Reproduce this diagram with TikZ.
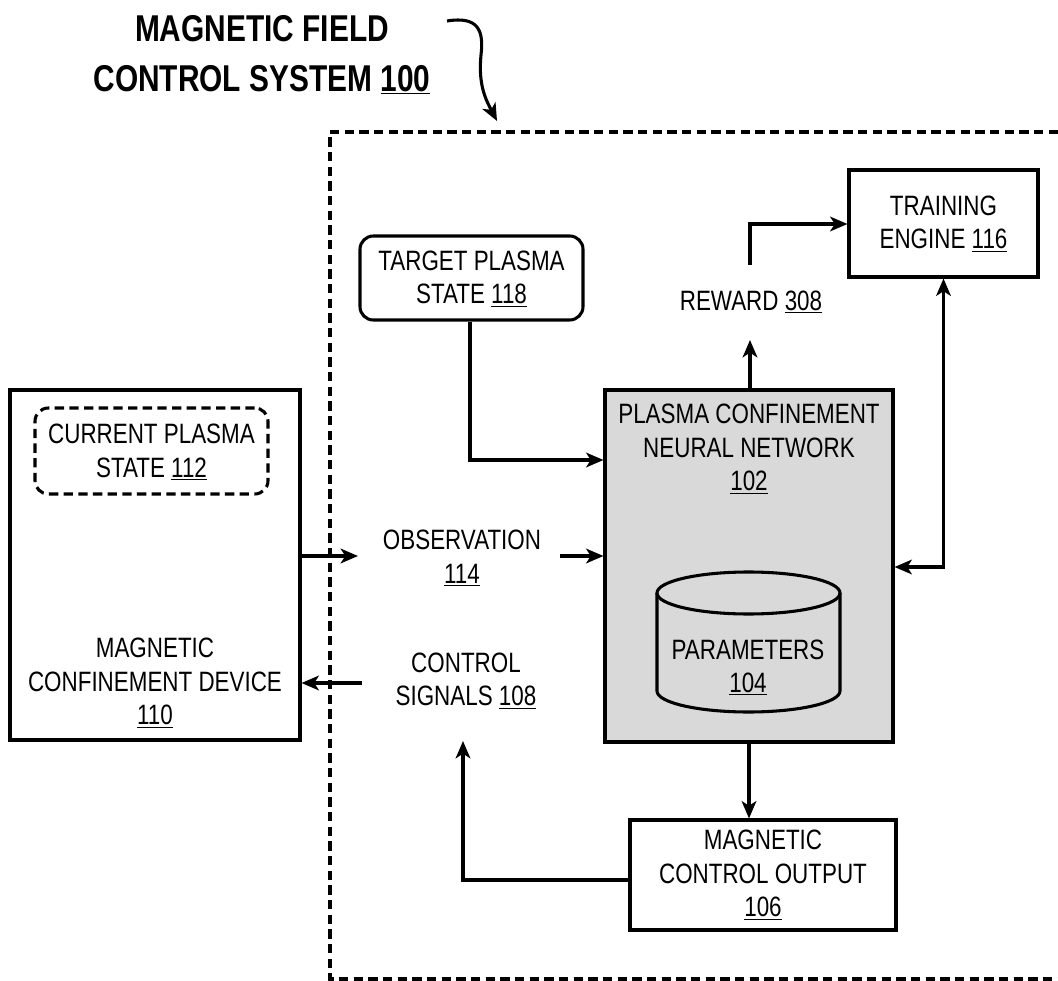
\documentclass[tikz,border=0pt]{standalone}
\usepackage{fontspec}
\setmainfont{Liberation Sans}[FakeStretch=0.8]
\usetikzlibrary{arrows.meta,calc}
\begin{document}
\begin{tikzpicture}[x=0.75pt,y=-0.75pt,
  line width=2.3pt,
  arr/.style={-{Stealth[length=13pt,width=11pt,inset=3.5pt]}},
  darr/.style={{Stealth[length=13pt,width=11pt,inset=3.5pt]}-{Stealth[length=13pt,width=11pt,inset=3.5pt]}},
  lbl/.style={align=center,font=\fontsize{21}{25}\selectfont,inner sep=0pt},
  box/.style={draw,rectangle,inner sep=0pt},
  nnfill/.style={fill=black!15}
]
\useasboundingbox (0,0) rectangle (1058,981);

% title
\node[align=center,font=\fontsize{28}{37.5}\selectfont\bfseries,inner sep=0pt] (title) at (262,55)
  {MAGNETIC FIELD\\CONTROL SYSTEM \underline{100}};
\coordinate (ptrs) at (447,21);
\coordinate (ptre) at (497,121);
\draw[arr] (ptrs) .. controls (478,16) and (484,30) .. (481,55)
  .. controls (478,85) and (486,100) .. (ptre);

% system boundary
\draw[dash pattern=on 7pt off 4pt] (1058,132) -- (330,132) -- (330,979) -- (1058,979);

% magnetic confinement device
\node[box,minimum width=290*0.75pt,minimum height=350*0.75pt] (mcd) at (155,565) {};
\node[draw,rounded corners=10pt,dash pattern=on 7pt off 4pt,minimum width=233*0.75pt,minimum height=86*0.75pt,inner sep=0pt] (cps) at (151.5,451) {};
\node[lbl] (cpst) at (151.5,452) {CURRENT PLASMA\\STATE \underline{112}};
\node[lbl] (mcdt) at (155,683) {MAGNETIC\\CONFINEMENT DEVICE\\\underline{110}};

% target plasma state
\node[draw,rounded corners=10pt,minimum width=223*0.75pt,minimum height=84*0.75pt,inner sep=0pt] (tps) at (471.5,278) {};
\node[lbl] (tpst) at (471.5,279) {TARGET PLASMA\\STATE \underline{118}};

% plasma confinement neural network
\node[box,nnfill,minimum width=288*0.75pt,minimum height=352*0.75pt] (pcnn) at (749,566) {};
\node[lbl] (pcnnt) at (749,449) {PLASMA CONFINEMENT\\NEURAL NETWORK\\\underline{102}};
% cylinder
\draw[nnfill] (657,593) -- (657,691)
  .. controls (657,702.6) and (698,712) .. (748.5,712)
  .. controls (799,712) and (840,702.6) .. (840,691) -- (840,593);
\draw (748.5,593) ellipse [x radius=91.5, y radius=21];
\node[lbl] (par) at (748,667.5) {PARAMETERS\\\underline{104}};

% training engine
\node[box,minimum width=189*0.75pt,minimum height=107*0.75pt] (train) at (943.5,223.5) {};
\node[lbl] (traint) at (943.5,224) {TRAINING\\ENGINE \underline{116}};

% reward
\node[lbl] (rew) at (751,302) {REWARD \underline{308}};

% magnetic control output
\node[box,minimum width=266*0.75pt,minimum height=110*0.75pt] (mco) at (763,875) {};
\node[lbl] (mcot) at (763,875) {MAGNETIC\\CONTROL OUTPUT\\\underline{106}};

% observation / control signals
\node[lbl] (obs) at (462,558) {OBSERVATION\\\underline{114}};
\node[lbl] (cs) at (466,681) {CONTROL\\SIGNALS \underline{108}};

% connectors
\coordinate (rwlo) at (750,340);
\coordinate (rwhi) at (750,265);
\draw[arr] (pcnn.north -| rwlo) -- (rwlo);
\draw[arr] (rwhi) |- (train.west |- 0,224);

\coordinate (tcor) at (943.5,567);
\draw[darr] (train.south) -- (tcor) -- (tcor -| pcnn.east);

\draw[arr] (tps.south -| 470,0) |- (pcnn.west |- 0,460);

\coordinate (obsin) at (358,556);
\coordinate (obsout) at (560,556);
\draw[arr] (mcd.east |- obsin) -- (obsin);
\draw[arr] (obsout) -- (pcnn.west |- obsout);

\coordinate (csout) at (362,683);
\draw[arr] (csout) -- (mcd.east |- csout);

\draw[arr] (pcnn.south) -- (pcnn.south |- mco.north);

\coordinate (cstip) at (463,741);
\draw[arr] (mco.west |- 0,880) -| (cstip);
\end{tikzpicture}
\end{document}
